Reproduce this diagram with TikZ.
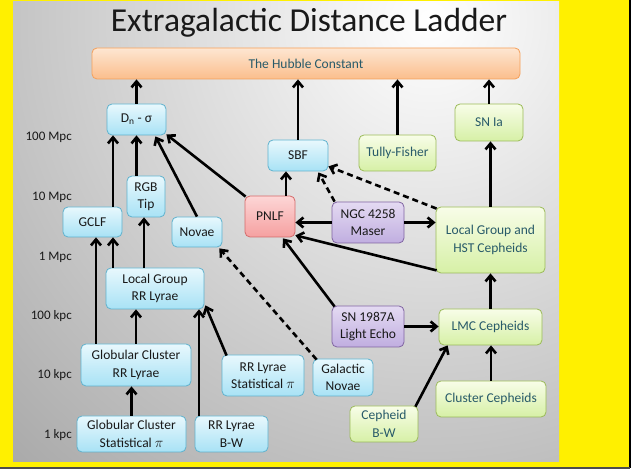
\documentclass[tikz,border=0pt]{standalone}
\usepackage{fontspec}
\setmainfont{Carlito}
\usetikzlibrary{arrows.meta,calc}
\definecolor{yel}{RGB}{255,240,0}
\definecolor{bluetop}{RGB}{232,248,253}
\definecolor{bluebot}{RGB}{168,226,245}
\definecolor{bluedraw}{RGB}{95,178,206}
\definecolor{greentop}{RGB}{248,253,232}
\definecolor{greenbot}{RGB}{214,240,166}
\definecolor{greendraw}{RGB}{155,187,89}
\definecolor{pinktop}{RGB}{253,214,214}
\definecolor{pinkbot}{RGB}{245,160,160}
\definecolor{pinkdraw}{RGB}{212,106,106}
\definecolor{purptop}{RGB}{228,218,242}
\definecolor{purpbot}{RGB}{192,174,224}
\definecolor{purpdraw}{RGB}{128,100,162}
\definecolor{orgtop}{RGB}{253,230,210}
\definecolor{orgbot}{RGB}{251,190,140}
\definecolor{orgdraw}{RGB}{245,160,90}
\definecolor{teal}{RGB}{40,90,105}
\begin{document}
\begin{tikzpicture}[x=1pt,y=-1pt,
  box/.style={draw, rounded corners=5pt, line width=0.8pt, align=center, inner sep=0pt,
    font=\fontsize{13.5}{17.5}\selectfont},
  sz/.style 2 args={minimum width=#1pt, minimum height=#2pt},
  bluebox/.style={box, draw=bluedraw, top color=bluetop, bottom color=bluebot, text=black!90},
  greenbox/.style={box, draw=greendraw, top color=greentop, bottom color=greenbot, text=teal},
  pinkbox/.style={box, draw=pinkdraw, top color=pinktop, bottom color=pinkbot, text=black!90},
  purpbox/.style={box, draw=purpdraw, top color=purptop, bottom color=purpbot, text=black!90},
  orgbox/.style={box, draw=orgdraw, top color=orgtop, bottom color=orgbot, text=teal},
  dlabel/.style={anchor=east, font=\fontsize{13}{15}\selectfont, text=black!90, inner sep=0pt},
  arr/.style={line width=2.6pt, -{Straight Barb[length=6pt,width=10pt]}},
  dsh/.style={arr, dash pattern=on 6pt off 4pt}]
\useasboundingbox (0,0) rectangle (638,470);
\fill[white] (0,0) rectangle (638,470);
\fill[yel] (0,0) rectangle (629,467);
\draw[line width=2pt] (629.5,0) -- (629.5,468.5);
\draw[line width=1.2pt, black!70] (0,468) -- (630,468);
\begin{scope}
  \clip (13,2) rectangle (559,462);
  \shade[inner color=white, outer color=black!55] (430,20) circle (1000);
\end{scope}
\node[anchor=base, font=\fontsize{33.5}{40}\selectfont, text=black!90] (title) at (309,32) {Extragalactic Distance Ladder};

% distance labels
\node[dlabel] (l1) at (72,137) {100 Mpc};
\node[dlabel] (l2) at (72,197) {10 Mpc};
\node[dlabel] (l3) at (72,257) {1 Mpc};
\node[dlabel] (l4) at (72,316) {100 kpc};
\node[dlabel] (l5) at (72,375) {10 kpc};
\node[dlabel] (l6) at (72,435) {1 kpc};

% nodes
\node[orgbox, sz={428}{31}] (hub) at (306,63.5) {The Hubble Constant};
\node[bluebox, sz={59}{31}] (dn) at (136.5,119.5) {D\textsubscript{n} - σ};
\node[bluebox, sz={60}{31}] (sbf) at (298,155.5) {SBF};
\node[greenbox, sz={77}{36}] (tf) at (397.5,153) {Tully-Fisher};
\node[greenbox, sz={68}{37}] (snia) at (489,122.5) {SN Ia};
\node[pinkbox, sz={50}{41}] (pnlf) at (270,216.5) {PNLF};
\node[purpbox, sz={72}{41}] (maser) at (368,222.5) {NGC 4258\\Maser};
\node[greenbox, sz={109}{66}] (lg) at (490.5,240) {Local Group and\\HST Cepheids};
\node[bluebox, sz={38}{41}] (rgb) at (146,196.5) {RGB\\Tip};
\node[bluebox, sz={59}{30}] (gclf) at (92.5,222) {GCLF};
\node[bluebox, sz={50}{30}] (novae) at (197,232) {Novae};
\node[bluebox, sz={98}{41}] (lgrr) at (155,288.5) {Local Group\\RR Lyrae};
\node[bluebox, sz={110}{42}] (gcrr) at (136,365) {Globular Cluster\\RR Lyrae};
\node[bluebox, sz={109}{36}] (gcsp) at (131.5,434) {Globular Cluster\\Statistical $\pi$};
\node[bluebox, sz={73}{36}] (rrbw) at (231.5,434) {RR Lyrae\\B-W};
\node[bluebox, sz={82}{41}] (rrsp) at (263,375.5) {RR Lyrae\\Statistical $\pi$};
\node[bluebox, sz={60}{37}] (gnov) at (343,377.5) {Galactic\\Novae};
\node[purpbox, sz={72}{41}] (sn87) at (368,326.5) {SN 1987A\\Light Echo};
\node[greenbox, sz={103}{36}] (lmc) at (490.5,327) {LMC Cepheids};
\node[greenbox, sz={110}{36}] (clc) at (491,399) {Cluster Cepheids};
\node[greenbox, sz={68}{36}] (cbw) at (384,424) {Cepheid\\B-W};

% helper x positions
\coordinate (x96) at (96,0);
\coordinate (x113) at (113,0);
\coordinate (x144) at (144,0);
\coordinate (x199) at (199,0);
\coordinate (x286) at (286,0);

% connectors to Hubble
\draw[arr] (dn.north) -- (dn.north |- hub.south);
\draw[arr] (sbf.north) -- (sbf.north |- hub.south);
\draw[arr] (tf.north) -- (tf.north |- hub.south);
\draw[arr] (snia.north) -- (snia.north |- hub.south);

% into Dn-sigma
\draw[arr] (x113 |- gclf.north) -- (x113 |- dn.south);
\draw[arr] (dn.south |- rgb.north) -- (dn.south);
\draw[arr] (novae.north) -- ($(dn.south east)+(-11,1)$);
\draw[arr] ($(pnlf.north west)+(1,1)$) -- ($(dn.south east)+(0,-1)$);

% SBF
\draw[arr] (x286 |- pnlf.north) -- (x286 |- sbf.south);
\draw[dsh] ($(maser.north west)+(3,0)$) -- ($(sbf.south east)+(-10,1)$);
\draw[dsh] ($(lg.north west)+(1,2)$) -- ($(sbf.south east)+(0,-5)$);

% PNLF
\draw[arr] (maser.west) -- (maser.west -| pnlf.east);
\draw[arr] (maser.east) -- (maser.east -| lg.west);
\draw[arr] ($(lg.south west)+(1,-3)$) -- ($(pnlf.south east)+(0,-2)$);
\draw[arr] ($(sn87.north west)+(3,1)$) -- ($(pnlf.south)+(13,1)$);

% Cepheids
\draw[arr] (lg.north) -- (lg.north |- snia.south);
\draw[arr] (lmc.north) -- (lmc.north |- lg.south);
\draw[arr] (sn87.east) -- (sn87.east -| lmc.west);
\draw[arr] (clc.north) -- (clc.north |- lmc.south);
\draw[arr] ($(cbw.north east)+(-3,1)$) -- ($(lmc.south west)+(9,0)$);

% Novae
\draw[dsh] ($(gnov.north west)+(4,1)$) -- ($(novae.south east)+(-3,1)$);

% RR Lyrae chain
\draw[arr] (x113 |- lgrr.north) -- (x113 |- gclf.south);
\draw[arr] (x144 |- lgrr.north) -- (x144 |- rgb.south);
\draw[arr] (x96 |- gcrr.north) -- (x96 |- gclf.south);
\draw[arr] (gcrr.north) -- (gcrr.north |- lgrr.south);
\draw[arr] (gcsp.north) -- (gcsp.north |- gcrr.south);
\draw[arr] (x199 |- rrbw.north) -- (x199 |- lgrr.south);
\draw[arr] ($(rrsp.north west)+(5,1)$) -- ($(lgrr.south east)+(1,-4)$);
\end{tikzpicture}
\end{document}
